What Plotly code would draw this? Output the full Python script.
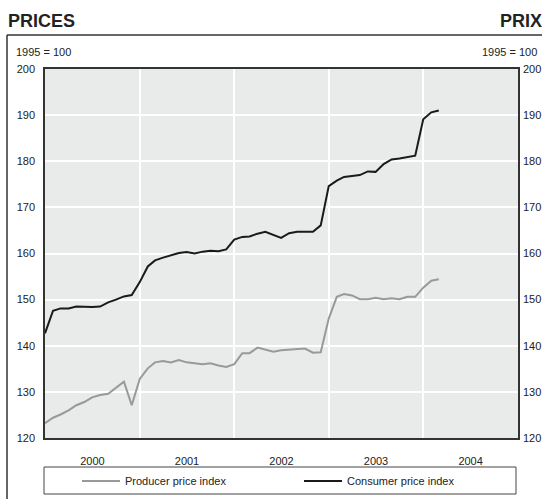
import plotly.graph_objects as go
import pandas as pd

months = pd.date_range("2000-01-01", "2004-03-01", freq="MS")

producer = [123.2, 124.4, 125.1, 126.0, 127.1, 127.8, 128.8, 129.3, 129.6, 130.9, 132.2, 127.1,
            132.8, 135.1, 136.4, 136.7, 136.4, 136.9, 136.4, 136.2, 136.0, 136.2, 135.7, 135.4,
            136.0, 138.4, 138.4, 139.6, 139.2, 138.7, 139.0, 139.1, 139.2, 139.4, 138.5, 138.6,
            145.9, 150.6, 151.2, 150.9, 150.1, 150.1, 150.4, 150.1, 150.3, 150.1, 150.6, 150.6,
            152.6, 154.1, 154.4]

consumer = [142.7, 147.6, 148.1, 148.1, 148.5, 148.4, 148.4, 148.5, 149.4, 150.0, 150.7, 151.0,
            153.8, 157.2, 158.5, 159.1, 159.6, 160.1, 160.3, 160.0, 160.4, 160.6, 160.5, 160.9,
            163.0, 163.6, 163.7, 164.3, 164.7, 164.0, 163.4, 164.4, 164.7, 164.7, 164.7, 166.1,
            174.6, 175.8, 176.6, 176.8, 177.0, 177.8, 177.7, 179.4, 180.4, 180.6, 180.9, 181.2,
            189.1, 190.6, 191.0]

y_ticks = [120, 130, 140, 150, 160, 170, 180, 190, 200]

FONT = "Liberation Sans, Arial, sans-serif"
TXT = "#222222"
W, H = 542, 499
L, R, T, B = 45, 24, 69, 61
PW, PH = W - L - R, H - T - B

def px_x(p):
    return (p - L) / PW

def px_y(p):
    return (H - B - p) / PH

tickfont = dict(family=FONT, size=11, color=TXT)

fig = go.Figure()
fig.add_trace(go.Scatter(x=months, y=producer, mode="lines", name="Producer price index",
                         line=dict(color="#999999", width=2), legend="legend"))
fig.add_trace(go.Scatter(x=months, y=consumer, mode="lines", name="Consumer price index",
                         line=dict(color="#1a1a1a", width=2), legend="legend2"))
# invisible trace for right axis
fig.add_trace(go.Scatter(x=[months[0]], y=[None], yaxis="y2", showlegend=False, hoverinfo="skip"))

legend_common = dict(
    orientation="h", xanchor="left", yanchor="middle",
    bgcolor="rgba(0,0,0,0)", borderwidth=0, itemwidth=38,
    font=dict(family=FONT, size=11, color=TXT),
)

fig.update_layout(
    width=W, height=H,
    margin=dict(l=L, r=R, t=T, b=B, autoexpand=False),
    paper_bgcolor="white",
    plot_bgcolor="#e9eaea",
    font=dict(family=FONT, size=11, color=TXT),
    xaxis=dict(
        type="date",
        range=["2000-01-01", "2005-01-01"],
        dtick="M12", tick0="2000-01-01",
        ticklabelmode="period",
        tickformat="%Y",
        showgrid=True, gridcolor="white", gridwidth=2,
        showline=True, linecolor="#333333", linewidth=1.5, mirror=True,
        ticks="", ticklabelstandoff=12, tickfont=tickfont,
        zeroline=False, automargin=False,
    ),
    yaxis=dict(
        range=[120, 200], tickvals=y_ticks,
        showgrid=True, gridcolor="white", gridwidth=2,
        showline=True, linecolor="#333333", linewidth=1.5, mirror=True,
        ticks="", ticklabelstandoff=6, tickfont=tickfont,
        zeroline=False, automargin=False,
    ),
    yaxis2=dict(
        range=[120, 200], tickvals=y_ticks, overlaying="y", side="right",
        showgrid=False, ticks="", ticklabelstandoff=4, tickfont=tickfont,
        zeroline=False, showline=False, automargin=False,
    ),
    showlegend=True,
    legend=dict(x=px_x(77), y=px_y(481), **legend_common),
    legend2=dict(x=px_x(299), y=px_y(481), **legend_common),
    shapes=[
        dict(type="rect", xref="paper", yref="paper",
             x0=px_x(44), x1=px_x(516), y0=px_y(494), y1=px_y(467),
             line=dict(color="#444444", width=1)),
        dict(type="line", xref="paper", yref="paper",
             x0=px_x(7), x1=px_x(7), y0=px_y(35), y1=px_y(499),
             line=dict(color="#333333", width=1.5)),
        dict(type="line", xref="paper", yref="paper",
             x0=px_x(7), x1=px_x(542), y0=px_y(35), y1=px_y(35),
             line=dict(color="#333333", width=1.5)),
    ],
    annotations=[
        dict(text="<b>PRICES</b>", xref="paper", yref="paper", x=px_x(6), y=px_y(21),
             xanchor="left", yanchor="middle", showarrow=False,
             font=dict(family=FONT, size=18, color=TXT)),
        dict(text="<b>PRIX</b>", xref="paper", yref="paper", x=px_x(498), y=px_y(21),
             xanchor="left", yanchor="middle", showarrow=False,
             font=dict(family=FONT, size=18, color=TXT)),
        dict(text="1995 = 100", xref="paper", yref="paper", x=px_x(14), y=px_y(52),
             xanchor="left", yanchor="middle", showarrow=False,
             font=dict(family=FONT, size=11, color=TXT)),
        dict(text="1995 = 100", xref="paper", yref="paper", x=px_x(539), y=px_y(52),
             xanchor="right", yanchor="middle", showarrow=False,
             font=dict(family=FONT, size=11, color=TXT)),
    ],
)

fig.write_html("out.html", config={"displayModeBar": False},
               post_script="document.body.style.margin='0';")
